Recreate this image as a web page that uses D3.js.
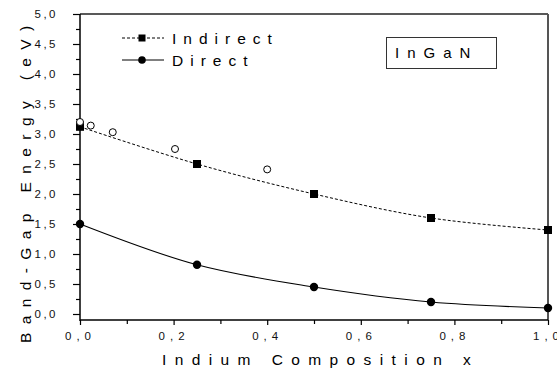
<!DOCTYPE html>
<html>
<head>
<meta charset="utf-8">
<script src="https://cdn.jsdelivr.net/npm/d3@7/dist/d3.min.js"></script>
<style>
body { margin: 0; background: #fff; }
text { font-family: "Liberation Sans", Arial, sans-serif; fill: #000; }
</style>
</head>
<body>
<script>
//values
var composition = [0, 0.25, 0.5, 0.75, 1.0];
var indirect = [3.12, 2.5, 2.0, 1.6, 1.4];
var direct = [1.5, 0.82, 0.45, 0.2, 0.1];
//open circles (measured points)
var measuredX = [0, 0.023, 0.07, 0.203, 0.4];
var measuredY = [3.2, 3.14, 3.03, 2.75, 2.41];
var xTicks = [0, 0.2, 0.4, 0.6, 0.8, 1.0];
var xMinor = [0.1, 0.3, 0.5, 0.7, 0.9];
var yTicks = [0, 0.5, 1.0, 1.5, 2.0, 2.5, 3.0, 3.5, 4.0, 4.5, 5.0];
var yMinor = [0.25, 0.75, 1.25, 1.75, 2.25, 2.75, 3.25, 3.75, 4.25, 4.75];

var w = 557, h = 369;
//plot frame (note: "top" is taken by window.top, so use an object)
var frame = {left: 80, right: 548, top: 14, bottom: 320};

var svg = d3.select("body").append("svg")
	.attr("width", w)
	.attr("height", h);

var x = d3.scaleLinear().domain([0, 1]).range([frame.left, frame.right]);
var y = d3.scaleLinear().domain([-0.1, 5]).range([frame.bottom, frame.top]);

var comma = function(d){ return d3.format(".1f")(d).replace(".", ","); };

//axes
var yAxis = svg.append("g")
	.attr("transform", "translate(" + frame.left + ",0)")
	.call(d3.axisLeft(y).tickValues(yTicks).tickSize(7).tickPadding(15).tickFormat(comma));
yAxis.selectAll("text")
	.style("font-size", "11.5px")
	.style("letter-spacing", "2.5px")
	.style("fill", "#111");

svg.append("g")
	.attr("transform", "translate(" + frame.left + ",0)")
	.call(d3.axisLeft(y).tickValues(yMinor).tickSize(4).tickFormat(""));

var xAxis = svg.append("g")
	.attr("transform", "translate(0," + frame.bottom + ")")
	.call(d3.axisBottom(x).tickValues(xTicks).tickSize(5).tickPadding(7).tickFormat(comma));
xAxis.selectAll("text")
	.style("font-size", "11.5px")
	.style("letter-spacing", "5px")
	.style("fill", "#111");

svg.append("g")
	.attr("transform", "translate(0," + frame.bottom + ")")
	.call(d3.axisBottom(x).tickValues(xMinor).tickSize(4).tickFormat(""));

svg.selectAll(".domain").remove();
svg.selectAll(".tick line").attr("stroke", "#000").attr("stroke-width", 1.2);

//frame
svg.append("line").attr("x1", frame.left).attr("x2", frame.right).attr("y1", frame.top).attr("y2", frame.top)
	.attr("stroke", "#222").attr("stroke-width", 1.5);
svg.append("line").attr("x1", frame.right).attr("x2", frame.right).attr("y1", frame.top).attr("y2", frame.bottom)
	.attr("stroke", "#555").attr("stroke-width", 2);
svg.append("line").attr("x1", frame.left).attr("x2", frame.left).attr("y1", frame.top).attr("y2", frame.bottom + 1)
	.attr("stroke", "#000").attr("stroke-width", 1.5);
svg.append("line").attr("x1", frame.left).attr("x2", frame.right).attr("y1", frame.bottom).attr("y2", frame.bottom)
	.attr("stroke", "#000").attr("stroke-width", 1.5);

//curves
var line = d3.line()
	.x(function(d){ return x(d[0]); })
	.y(function(d){ return y(d[1]); })
	.curve(d3.curveCatmullRom.alpha(0.5));

var indirectPts = composition.map(function(c, i){ return [c, indirect[i]]; });
var directPts = composition.map(function(c, i){ return [c, direct[i]]; });

svg.append("path")
	.attr("d", line(indirectPts))
	.attr("fill", "none")
	.attr("stroke", "#000")
	.attr("stroke-width", 1)
	.attr("stroke-dasharray", "3,2");

svg.append("path")
	.attr("d", line(directPts))
	.attr("fill", "none")
	.attr("stroke", "#000")
	.attr("stroke-width", 1.1);

svg.selectAll(".sq").data(indirectPts).enter().append("rect")
	.attr("class", "sq")
	.attr("x", function(d){ return x(d[0]) - 4; })
	.attr("y", function(d){ return y(d[1]) - 4; })
	.attr("width", 8)
	.attr("height", 8)
	.attr("fill", "#000");

svg.selectAll(".dot").data(directPts).enter().append("circle")
	.attr("class", "dot")
	.attr("cx", function(d){ return x(d[0]); })
	.attr("cy", function(d){ return y(d[1]); })
	.attr("r", 4.2)
	.attr("fill", "#000");

svg.selectAll(".open").data(measuredX).enter().append("circle")
	.attr("class", "open")
	.attr("cx", function(d){ return x(d); })
	.attr("cy", function(d, i){ return y(measuredY[i]); })
	.attr("r", 3.5)
	.attr("fill", "#fff")
	.attr("stroke", "#000")
	.attr("stroke-width", 1);

//legend
var legend = [
	{name: "Indirect", dash: "3,2", shape: "square", ly: 38},
	{name: "Direct", dash: null, shape: "circle", ly: 60}
];
legend.forEach(function(item){
	svg.append("line")
		.attr("x1", 122).attr("x2", 164)
		.attr("y1", item.ly).attr("y2", item.ly)
		.attr("stroke", "#000")
		.attr("stroke-width", 1)
		.attr("stroke-dasharray", item.dash);
	if (item.shape == "square"){
		svg.append("rect").attr("x", 138.5).attr("y", item.ly - 3.5)
			.attr("width", 7).attr("height", 7).attr("fill", "#000");
	} else {
		svg.append("circle").attr("cx", 142).attr("cy", item.ly)
			.attr("r", 3.8).attr("fill", "#000");
	}
	svg.append("text")
		.attr("x", 172)
		.attr("y", item.ly + 6)
		.text(item.name)
		.style("font-size", "15.5px")
		.style("letter-spacing", "7px");
});

//InGaN box
svg.append("rect")
	.attr("x", 386.5).attr("y", 37.5)
	.attr("width", 110).attr("height", 31)
	.attr("fill", "none")
	.attr("stroke", "#333")
	.attr("stroke-width", 1);
svg.append("text")
	.attr("x", 395)
	.attr("y", 58)
	.text("InGaN")
	.style("font-size", "15px")
	.style("letter-spacing", "8px");

//axis titles
svg.append("text")
	.attr("x", 162)
	.attr("y", 365)
	.text("Indium Composition x")
	.style("font-size", "15.5px")
	.style("letter-spacing", "8.4px");

svg.append("text")
	.attr("transform", "translate(31,343) rotate(-90)")
	.text("Band-Gap Energy (eV)")
	.style("font-size", "15.5px")
	.style("letter-spacing", "8.4px");
</script>
</body>
</html>
